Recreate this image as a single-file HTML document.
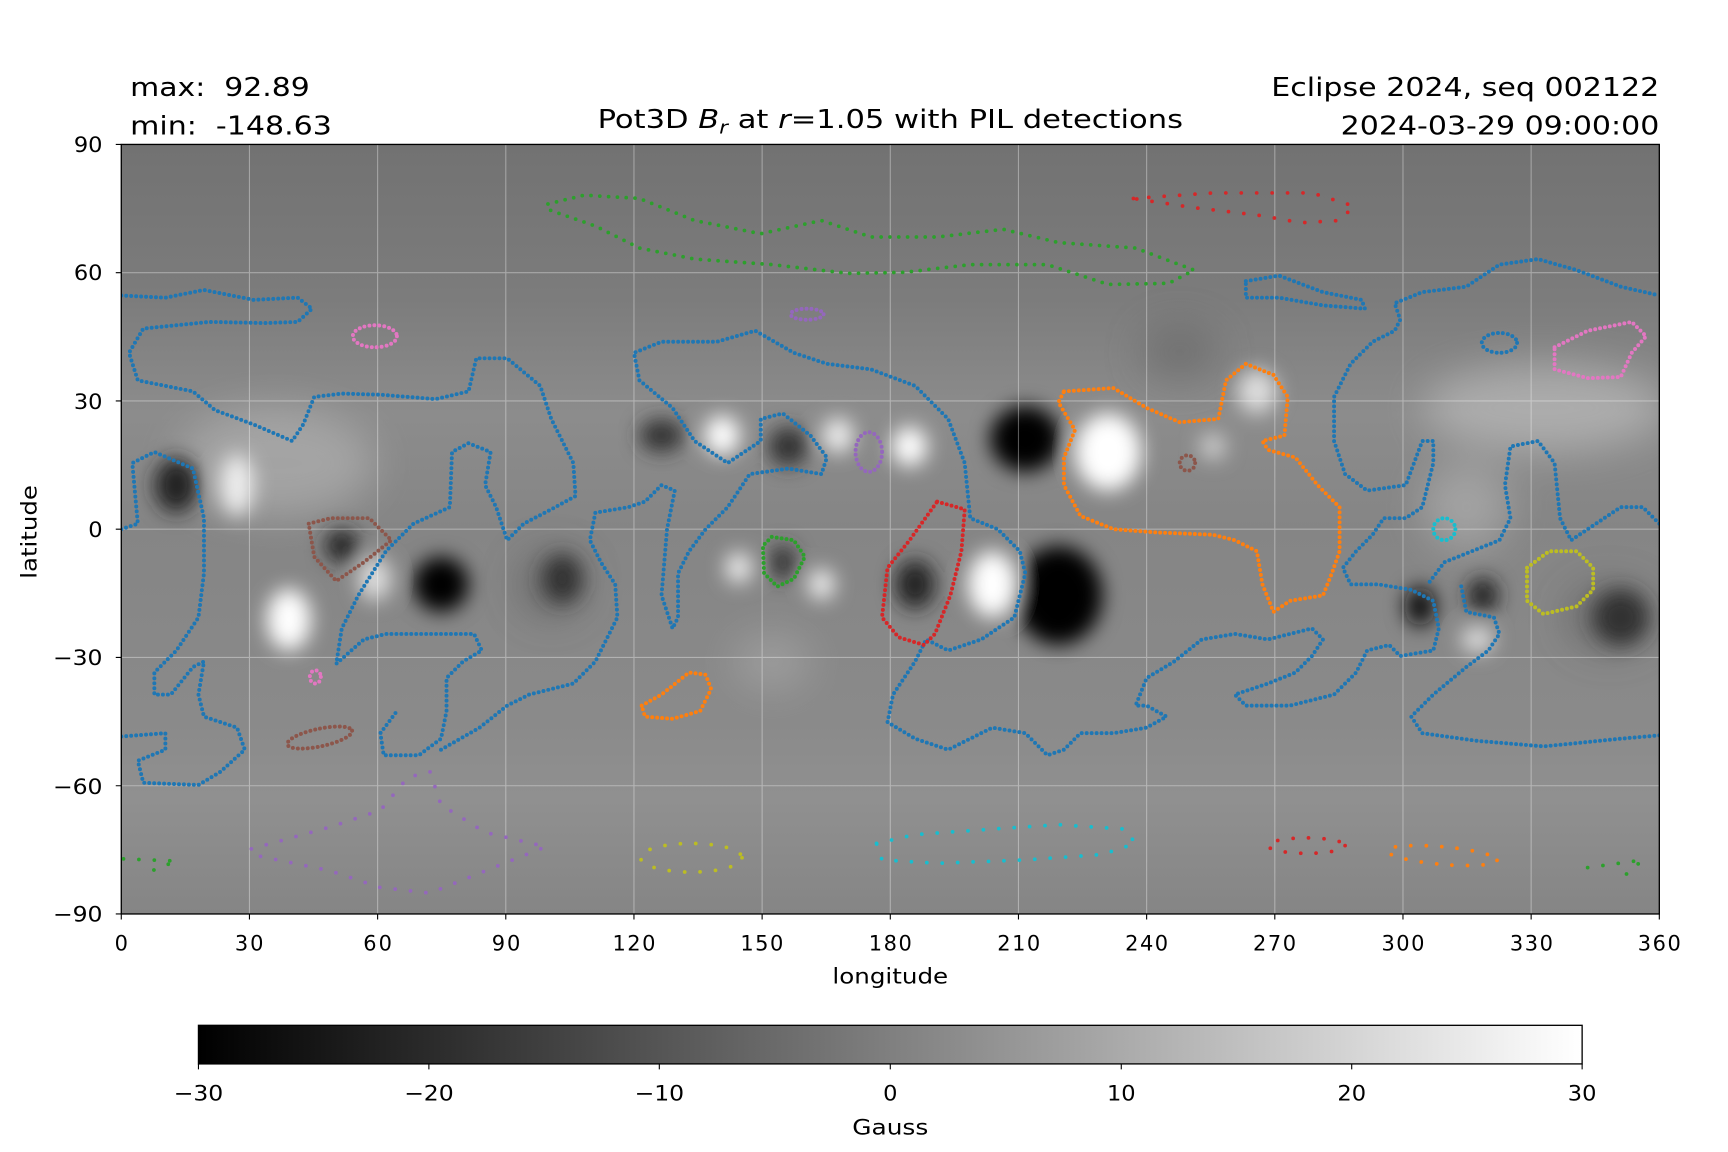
<!DOCTYPE html>
<html><head><meta charset="utf-8"><style>
html,body{margin:0;padding:0;background:#fff}
svg{display:block}
text{font-family:"DejaVu Sans","Liberation Sans",sans-serif;fill:#000;white-space:pre}
</style></head><body>
<svg width="1728" height="1152" viewBox="0 0 1567.3 1044.9" preserveAspectRatio="none" xmlns="http://www.w3.org/2000/svg">
<defs>
<clipPath id="ax"><rect x="110" y="131" width="1395" height="698"/></clipPath>
<filter id="b1" x="-50%" y="-50%" width="200%" height="200%"><feGaussianBlur stdDeviation="9"/></filter>
<filter id="b2" x="-50%" y="-50%" width="200%" height="200%"><feGaussianBlur stdDeviation="18"/></filter>
<linearGradient id="bg" x1="0" y1="0" x2="0" y2="1">
<stop offset="0" stop-color="#727272"/><stop offset="0.2" stop-color="#7c7c7c"/><stop offset="0.35" stop-color="#8c8c8c"/>
<stop offset="0.5" stop-color="#858585"/><stop offset="0.75" stop-color="#8a8a8a"/><stop offset="0.85" stop-color="#909090"/><stop offset="1" stop-color="#858585"/></linearGradient>
<linearGradient id="cb" x1="0" x2="1"><stop offset="0" stop-color="#000"/><stop offset="1" stop-color="#fff"/></linearGradient>
</defs>
<g clip-path="url(#ax)">
<rect x="110" y="131" width="1395" height="698" fill="url(#bg)"/>
<g filter="url(#b2)" opacity="0.4">
<ellipse cx="1400" cy="370" rx="110" ry="40" fill="#ddd"/>
<ellipse cx="250" cy="420" rx="90" ry="50" fill="#ccc"/>
<ellipse cx="1460" cy="560" rx="40" ry="30" fill="#444"/>
<ellipse cx="500" cy="530" rx="30" ry="30" fill="#444"/>
<ellipse cx="1070" cy="320" rx="35" ry="25" fill="#555"/>
<ellipse cx="700" cy="600" rx="35" ry="25" fill="#bbb"/>
<ellipse cx="1330" cy="460" rx="40" ry="40" fill="#ccc"/>
</g>
<g filter="url(#b1)">
<ellipse cx="930" cy="398" rx="32" ry="30" fill="#000"/>
<ellipse cx="960" cy="540" rx="40" ry="45" fill="#000"/>
<ellipse cx="400" cy="530" rx="25" ry="25" fill="#000"/>
<ellipse cx="160" cy="440" rx="20" ry="25" fill="#222"/>
<ellipse cx="1288" cy="550" rx="14" ry="18" fill="#111"/>
<ellipse cx="1345" cy="540" rx="14" ry="16" fill="#222"/>
<ellipse cx="1470" cy="560" rx="25" ry="25" fill="#333"/>
<ellipse cx="510" cy="525" rx="18" ry="22" fill="#333"/>
<ellipse cx="830" cy="530" rx="18" ry="22" fill="#222"/>
<ellipse cx="310" cy="495" rx="15" ry="15" fill="#222"/>
<ellipse cx="600" cy="395" rx="20" ry="15" fill="#333"/>
<ellipse cx="715" cy="405" rx="18" ry="18" fill="#333"/>
<ellipse cx="710" cy="510" rx="12" ry="16" fill="#333"/>
<ellipse cx="1005" cy="410" rx="30" ry="35" fill="#fff"/>
<ellipse cx="262" cy="562" rx="20" ry="28" fill="#fff"/>
<ellipse cx="215" cy="440" rx="15" ry="28" fill="#eee"/>
<ellipse cx="655" cy="395" rx="16" ry="18" fill="#fff"/>
<ellipse cx="825" cy="405" rx="16" ry="18" fill="#fff"/>
<ellipse cx="760" cy="395" rx="14" ry="16" fill="#eee"/>
<ellipse cx="900" cy="530" rx="22" ry="30" fill="#fff"/>
<ellipse cx="1140" cy="355" rx="18" ry="20" fill="#ddd"/>
<ellipse cx="745" cy="530" rx="12" ry="14" fill="#eee"/>
<ellipse cx="670" cy="515" rx="12" ry="14" fill="#eee"/>
<ellipse cx="340" cy="525" rx="15" ry="20" fill="#ddd"/>
<ellipse cx="1340" cy="580" rx="15" ry="12" fill="#ddd"/>
<ellipse cx="1100" cy="405" rx="12" ry="12" fill="#ccc"/>
</g>
<g stroke="#fff" stroke-opacity="0.35" stroke-width="1">
<path d="M226.25 131V829M342.5 131V829M458.75 131V829M575 131V829M691.25 131V829M807.5 131V829M923.75 131V829M1040 131V829M1156.25 131V829M1272.5 131V829M1388.75 131V829M110 247.3H1505M110 363.7H1505M110 480H1505M110 596.3H1505M110 712.7H1505"/>
</g>
<g fill="none" stroke-linecap="round" stroke-width="3.6" stroke-dasharray="0 4.5" stroke-linejoin="round">
<g stroke="#1f77b4">
<path d="M110 268L150 270L185 263L230 272L270 270L283 280L270 292L240 293L190 292L130 298L117 320L125 345L175 355L195 372L230 385L265 400L275 385L285 360L310 357L345 358L395 362L425 355L432 325L460 325L490 350L500 380L520 420L522 450L500 462L475 475L460 490L450 460L440 440L445 410L425 402L410 410L408 460L375 475L350 500L325 540L310 570L305 602L330 580L350 575L390 575L430 575L437 590L420 600L405 615L405 645L400 670L380 685L348 685L345 665L360 645"/>
<path d="M110 480L125 475L120 420L140 410L175 425L185 470L185 520L180 560L160 590L140 610L140 630L155 630L175 605L185 600L180 630L185 650L215 660L222 680L200 700L180 712L130 710L125 690L150 680L150 665L110 668"/>
<path d="M400 680L435 660L460 640L480 630L520 620L540 600L560 560L558 530L545 510L535 490L540 465L570 460L585 455L600 440L612 445L605 480L600 540L610 570L615 560L615 520L625 500L640 480L660 460L680 430L715 425L745 430L750 415L735 395L710 375L690 380L690 400L660 420L630 400L610 370L580 345L575 320L600 310L650 310L685 300L720 320L750 330L790 335L830 350L860 380L875 420L880 470L905 480L925 500L930 520L920 560L890 580L860 590L840 580L830 600L810 630L805 655L830 670L860 680L900 660L930 665L950 685L965 680L980 665L1010 665L1040 660L1058 650L1040 640L1030 640L1040 615L1065 600L1090 580L1120 575L1150 580L1170 575L1190 570L1200 580L1190 595L1175 610L1150 620L1120 630L1130 640L1170 640L1210 630L1230 610L1240 590L1260 585L1270 595L1300 590L1305 570L1300 545L1280 535L1250 530L1225 530L1218 515L1230 500L1245 485L1255 470L1275 470L1290 460L1300 420L1300 400L1290 400L1275 440L1240 445L1220 430L1210 400L1210 360L1225 330L1245 310L1265 300L1270 290L1265 275L1290 265L1330 260L1360 240L1395 235L1430 245L1470 260L1505 268"/>
<path d="M1505 475L1490 460L1470 460L1440 480L1425 490L1415 470L1410 420L1395 400L1370 405L1365 440L1370 470L1360 490L1335 500L1310 510L1295 530"/>
<path d="M1505 667L1470 670L1400 677L1340 672L1290 665L1280 650L1300 630L1330 605L1350 590L1360 575L1355 560L1330 555L1325 530"/>
<path d="M1130 255L1160 250L1200 265L1235 272L1238 280L1200 277L1160 270L1130 270Z"/>
<ellipse cx="1360" cy="311" rx="16" ry="9"/>
</g>
<path stroke="#ff7f0e" d="M965 355L1010 352L1040 370L1070 383L1105 380L1112 345L1130 330L1155 340L1168 360L1165 395L1145 400L1150 408L1175 415L1195 440L1215 460L1215 500L1208 520L1200 540L1170 545L1155 555L1145 530L1140 500L1120 490L1100 485L1050 483L1010 480L980 468L965 440L965 415L975 390L960 365Z"/>
<path stroke="#ff7f0e" d="M582 640L600 630L625 610L640 612L645 625L635 645L610 652L585 650Z"/>
<path stroke="#d62728" d="M850 455L875 462L872 500L862 540L848 575L838 585L815 578L800 560L805 515L825 490Z"/>
<path stroke="#2ca02c" d="M700 487L720 490L730 505L720 525L705 532L693 520L692 495Z"/>
<ellipse stroke="#9467bd" cx="788" cy="410" rx="12" ry="18"/>
<path stroke="#8c564b" d="M280 475L300 470L335 470L355 490L330 510L305 527L285 505Z"/>
<circle stroke="#8c564b" cx="1077" cy="420" r="7"/>
<circle stroke="#17becf" cx="1310" cy="480" r="10"/>
<path stroke="#bcbd22" d="M1385 515L1405 500L1430 500L1445 515L1445 535L1430 550L1400 557L1385 545Z"/>
<ellipse stroke="#e377c2" cx="340" cy="305" rx="20" ry="10"/>
<ellipse stroke="#e377c2" cx="286" cy="614" rx="5" ry="6"/>
<path stroke="#e377c2" d="M1410 315L1440 300L1480 292L1493 305L1480 320L1470 342L1440 343L1410 335Z"/>
<ellipse stroke="#8c564b" cx="290" cy="669" rx="30" ry="8" transform="rotate(-12 290 669)"/>
<ellipse stroke="#9467bd" cx="732" cy="285" rx="15" ry="5"/>
</g>
<g fill="none" stroke-linecap="round" stroke-width="3.4" stroke-dasharray="0 14">
<path stroke="#2ca02c" stroke-dasharray="0 8" d="M497 185L530 177L580 180L630 200L690 212L745 200L790 215L850 215L910 208L960 220L1030 225L1083 245L1060 257L1005 258L950 240L880 240L820 247L770 248L700 240L630 235L580 225L540 205L497 190"/>
<path stroke="#d62728" d="M1028 180L1100 175L1190 175L1228 187L1215 200L1180 202L1140 195L1080 188Z"/>
<path stroke="#9467bd" d="M228 770L300 750L345 735L370 705L390 700L400 730L440 755L495 768L440 790L390 810L345 805L300 790L228 775"/>
<ellipse stroke="#bcbd22" cx="627" cy="778" rx="46" ry="13"/>
<path stroke="#17becf" d="M795 765L830 757L900 752L960 748L1020 752L1030 765L1000 775L930 780L850 783L800 780Z"/>
<ellipse stroke="#d62728" cx="1185" cy="767" rx="35" ry="7"/>
<ellipse stroke="#ff7f0e" cx="1308" cy="776" rx="50" ry="8" transform="rotate(5 1308 776)"/>
<path stroke="#2ca02c" d="M112 779L160 781L130 793"/>
<path stroke="#2ca02c" d="M1440 787L1490 780L1475 793"/>
</g>
</g>
<rect x="110" y="131" width="1395" height="698" fill="none" stroke="#000" stroke-width="1.2"/>
<g stroke="#000" stroke-width="1">
<path d="M110 829v5M226.25 829v5M342.5 829v5M458.75 829v5M575 829v5M691.25 829v5M807.5 829v5M923.75 829v5M1040 829v5M1156.25 829v5M1272.5 829v5M1388.75 829v5M1505 829v5"/>
<path d="M110 131h-5M110 247.3h-5M110 363.7h-5M110 480h-5M110 596.3h-5M110 712.7h-5M110 829h-5"/>
</g>
<g font-size="19" text-anchor="middle" lengthAdjust="spacingAndGlyphs">
<text x="110" y="862" textLength="13">0</text><text x="226" y="862" textLength="26">30</text><text x="342.5" y="862" textLength="26">60</text><text x="459" y="862" textLength="26">90</text><text x="575" y="862" textLength="39">120</text><text x="691" y="862" textLength="39">150</text><text x="807.5" y="862" textLength="39">180</text><text x="924" y="862" textLength="39">210</text><text x="1040" y="862" textLength="39">240</text><text x="1156" y="862" textLength="39">270</text><text x="1272.5" y="862" textLength="39">300</text><text x="1389" y="862" textLength="39">330</text><text x="1505" y="862" textLength="39">360</text>
</g>
<g font-size="19" text-anchor="end">
<text x="93" y="138" textLength="26" lengthAdjust="spacingAndGlyphs">90</text><text x="93" y="254" textLength="26" lengthAdjust="spacingAndGlyphs">60</text><text x="93" y="371" textLength="26" lengthAdjust="spacingAndGlyphs">30</text><text x="93" y="487" textLength="13" lengthAdjust="spacingAndGlyphs">0</text><text x="93" y="603" textLength="45" lengthAdjust="spacingAndGlyphs">−30</text><text x="93" y="720" textLength="45" lengthAdjust="spacingAndGlyphs">−60</text><text x="93" y="836" textLength="45" lengthAdjust="spacingAndGlyphs">−90</text>
</g>
<text x="755" y="892" font-size="19" textLength="105" lengthAdjust="spacingAndGlyphs">longitude</text>
<text transform="translate(33 525) rotate(-90)" font-size="19" textLength="85" lengthAdjust="spacingAndGlyphs">latitude</text>
<text x="118" y="87" font-size="23" textLength="163" lengthAdjust="spacingAndGlyphs">max:  92.89</text>
<text x="118" y="122" font-size="23" textLength="183" lengthAdjust="spacingAndGlyphs">min:  -148.63</text>
<text x="1153" y="87" font-size="23" textLength="352" lengthAdjust="spacingAndGlyphs">Eclipse 2024, seq 002122</text>
<text x="1216" y="122" font-size="23" textLength="289" lengthAdjust="spacingAndGlyphs">2024-03-29 09:00:00</text>
<text x="542" y="116" font-size="23" textLength="531" lengthAdjust="spacingAndGlyphs">Pot3D <tspan font-style="italic">B</tspan><tspan font-style="italic" font-size="16" dy="5">r</tspan><tspan dy="-5"> at </tspan><tspan font-style="italic">r</tspan>=1.05 with PIL detections</text>
<rect x="180" y="930" width="1255" height="35" fill="url(#cb)" stroke="#000" stroke-width="1.2"/>
<g stroke="#000"><path d="M180 965v5M389 965v5M598 965v5M807.5 965v5M1017 965v5M1226 965v5M1435 965v5"/></g>
<g font-size="19" text-anchor="middle">
<text x="180" y="998" textLength="45" lengthAdjust="spacingAndGlyphs">−30</text><text x="389" y="998" textLength="45" lengthAdjust="spacingAndGlyphs">−20</text><text x="598" y="998" textLength="45" lengthAdjust="spacingAndGlyphs">−10</text><text x="807.5" y="998" textLength="13" lengthAdjust="spacingAndGlyphs">0</text><text x="1017" y="998" textLength="26" lengthAdjust="spacingAndGlyphs">10</text><text x="1226" y="998" textLength="26" lengthAdjust="spacingAndGlyphs">20</text><text x="1435" y="998" textLength="26" lengthAdjust="spacingAndGlyphs">30</text>
<text x="807.5" y="1029" textLength="69" lengthAdjust="spacingAndGlyphs">Gauss</text>
</g>
</svg>
</body></html>
